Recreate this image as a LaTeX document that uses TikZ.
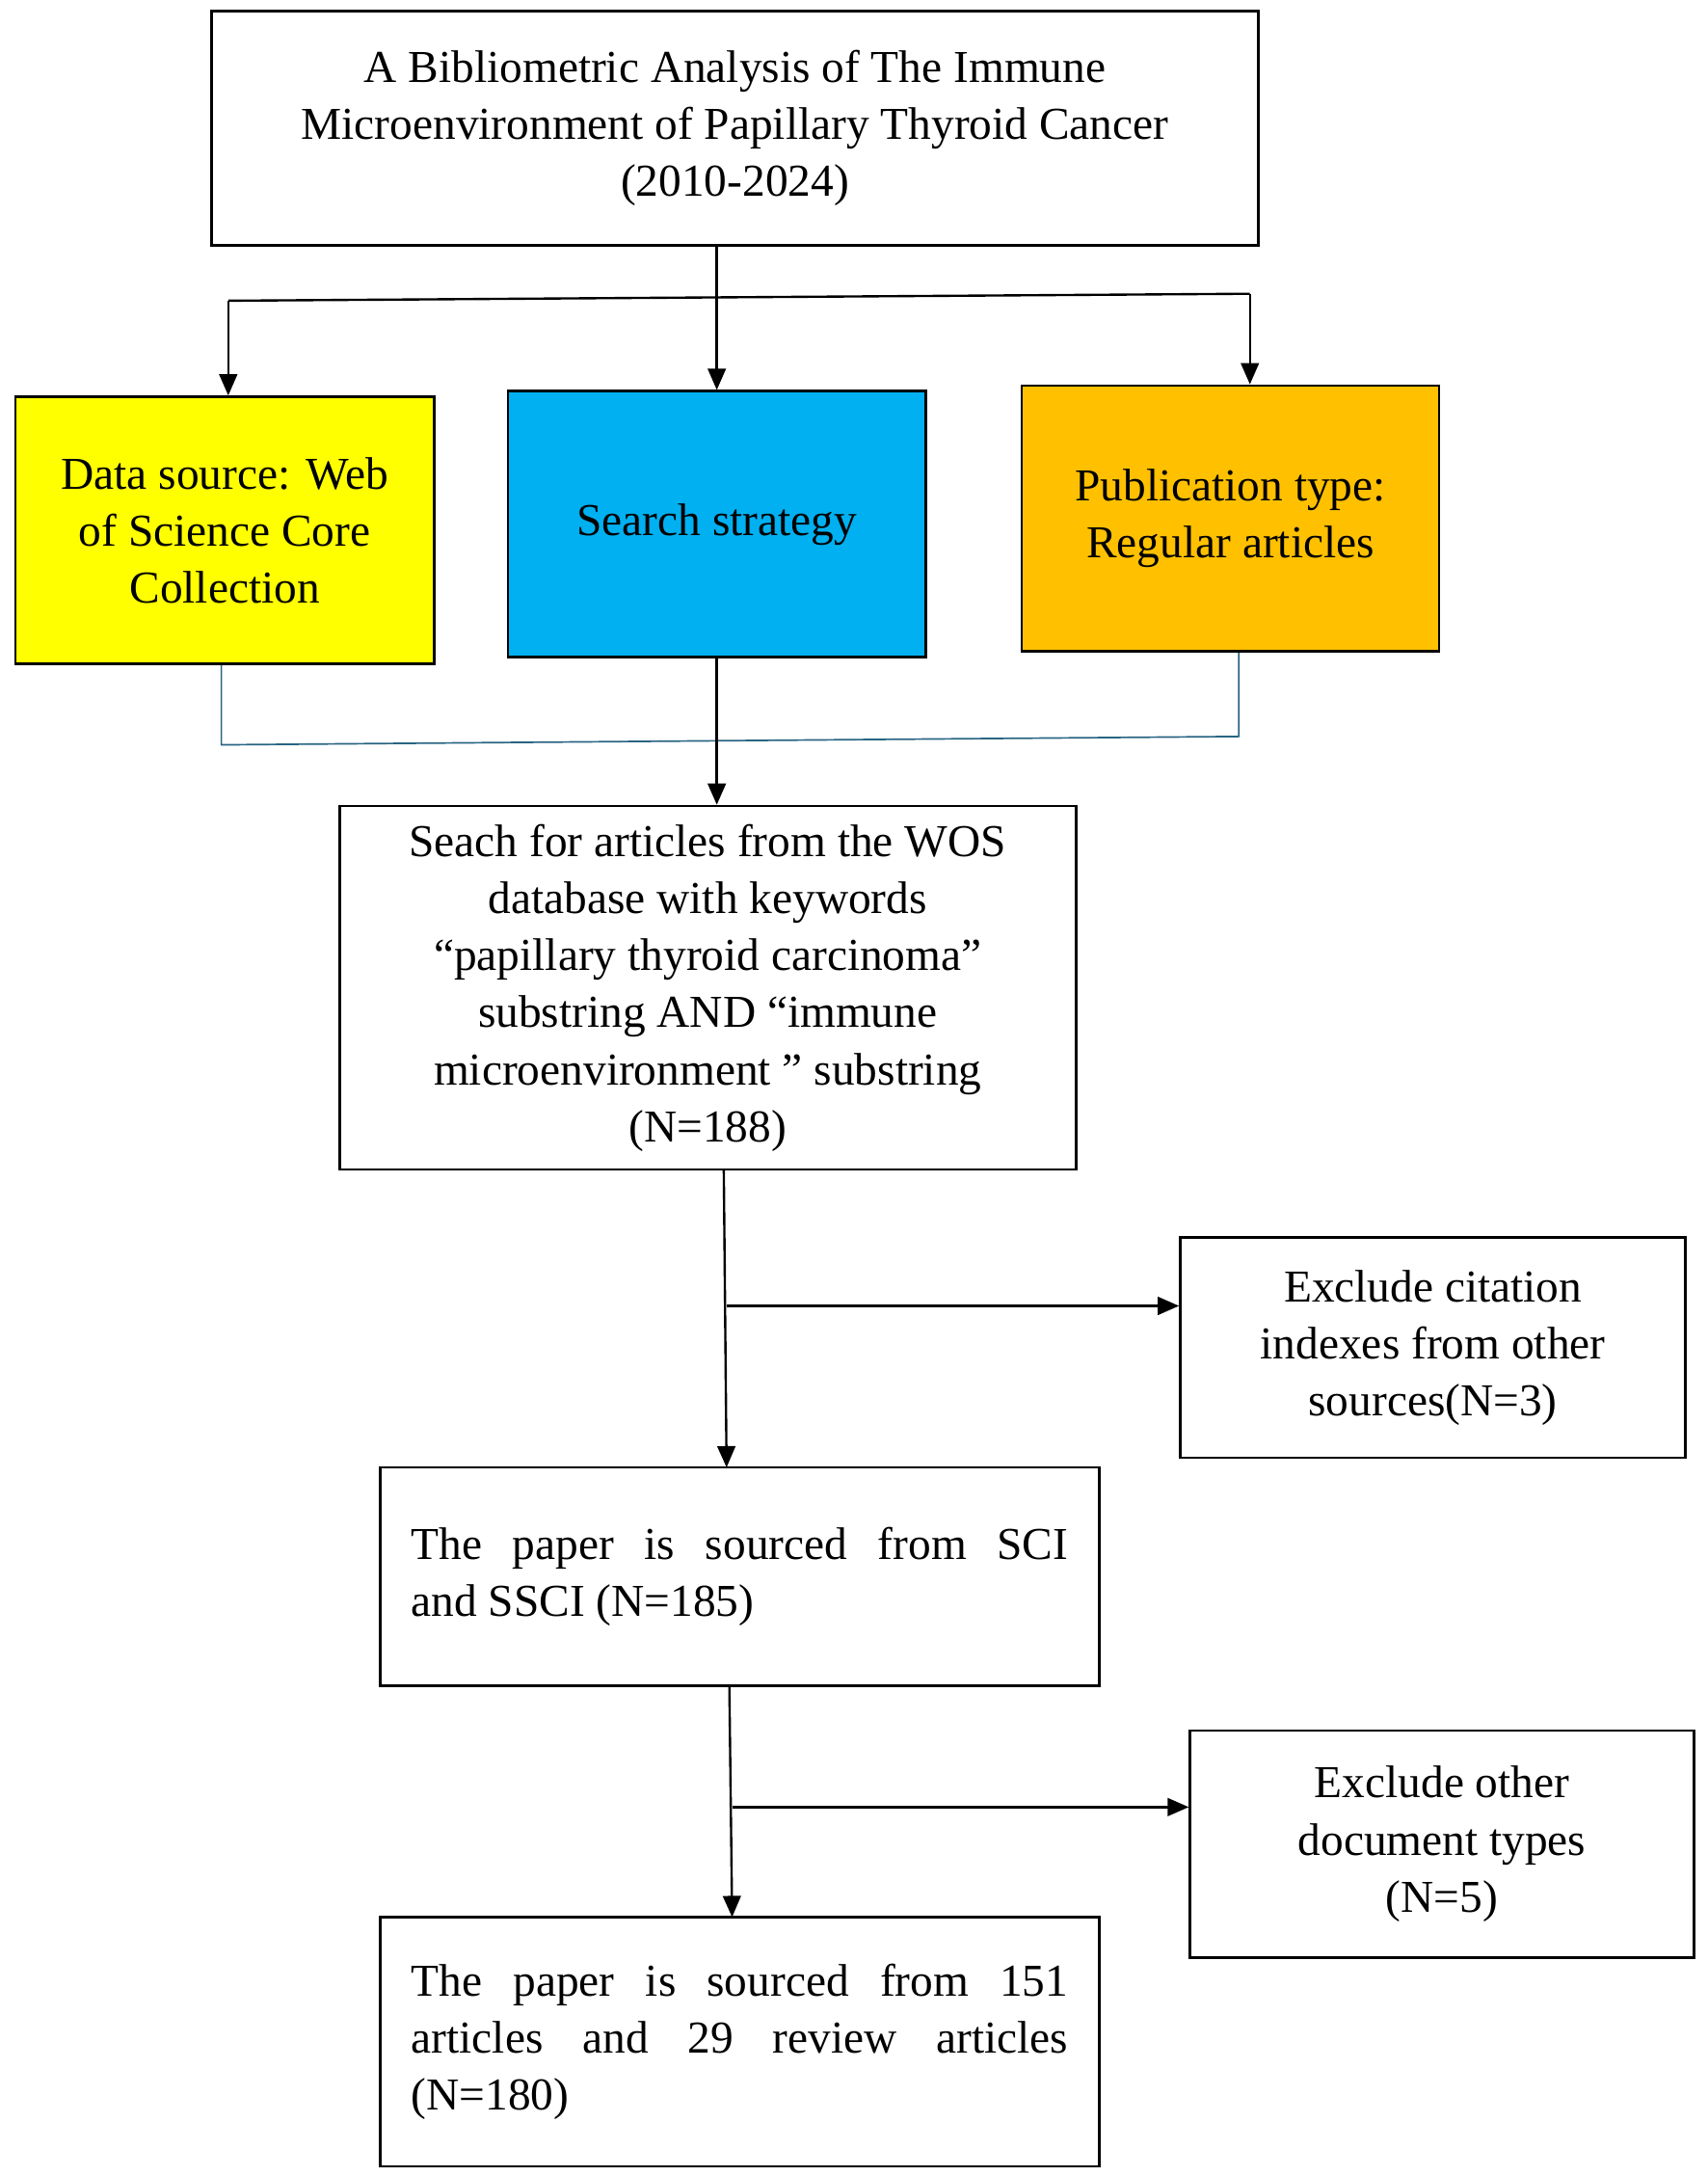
\documentclass[tikz,border=0pt]{standalone}
\usepackage{fontspec}
\setmainfont{Liberation Serif}
\usetikzlibrary{arrows.meta}
\begin{document}
\begin{tikzpicture}[x=0.03cm,y=-0.03cm,
  box/.style={draw,line width=1.6pt,align=center,inner sep=0pt,font=\fontsize{28}{35}\selectfont},
  ln/.style={line width=1.4pt},
  arr/.style={ln,-{Triangle[length=13pt,width=11pt]}},
  thin/.style={line width=1pt,draw={rgb,255:red,40;green,100;blue,130}}]
\useasboundingbox (0,0) rectangle (1227,1563);
\node[box,minimum width=22.56cm,minimum height=5.04cm] (title) at (528,92) {A Bibliometric Analysis of The Immune\\Microenvironment of Papillary Thyroid Cancer\\(2010-2024)};
\node[box,fill={rgb,255:red,255;green,255;blue,0},minimum width=9.03cm,minimum height=5.76cm] (ds) at (161.5,381) {Data source: Web\\of Science Core\\Collection};
\node[box,fill={rgb,255:red,0;green,176;blue,240},minimum width=9.0cm,minimum height=5.73cm] (ss) at (515,376.5) {Search strategy};
\node[box,fill={rgb,255:red,255;green,192;blue,0},minimum width=9.0cm,minimum height=5.73cm] (pt) at (884,372.5) {Publication type:\\Regular articles};
\node[box,minimum width=15.87cm,minimum height=7.83cm] (search) at (508.5,709.5) {Seach for articles from the WOS\\database with keywords\\“papillary thyroid carcinoma”\\substring AND “immune\\microenvironment ” substring\\(N=188)};
\node[box,minimum width=10.89cm,minimum height=4.74cm] (ex1) at (1029.5,968) {Exclude citation\\indexes from other\\sources(N=3)};
\node[box,align=left,minimum width=15.51cm,minimum height=4.71cm] (sci) at (531.5,1132.5) {\makebox[14.16cm][s]{The paper is sourced from SCI}\\and SSCI (N=185)};
\node[box,minimum width=10.86cm,minimum height=4.89cm] (ex2) at (1036,1324.5) {Exclude other\\document types\\(N=5)};
\node[box,align=left,minimum width=15.51cm,minimum height=5.37cm] (fin) at (531.5,1466.5) {\makebox[14.16cm][s]{The paper is sourced from 151}\\\makebox[14.16cm][s]{articles and 29 review articles}\\(N=180)};
% top branching
\coordinate (tL) at (164,216);
\coordinate (tR) at (898,211);
\draw[arr] (title.south -| ss.north) -- (ss.north);
\draw[ln] (tL) -- (tR);
\draw[arr] (tL) -- (tL |- ds.north);
\draw[arr] (tR) -- (tR |- pt.north);
% bottom merge
\coordinate (bL) at (159,535);
\coordinate (bR) at (890,529);
\draw[thin] (bL |- ds.south) -- (bL) -- (bR) -- (bR |- pt.south);
\draw[arr] (ss.south) -- (search.north -| ss.south);
% exclusions
\coordinate (s1) at (520,840);
\coordinate (j1) at (522,938);
\draw[arr] (s1) -- (522,1054);
\draw[arr] (j1) -- (ex1.west |- j1);
\coordinate (j2) at (526,1298);
\draw[arr] (524,1211) -- (526,1377);
\draw[arr] (j2) -- (ex2.west |- j2);
\end{tikzpicture}
\end{document}
